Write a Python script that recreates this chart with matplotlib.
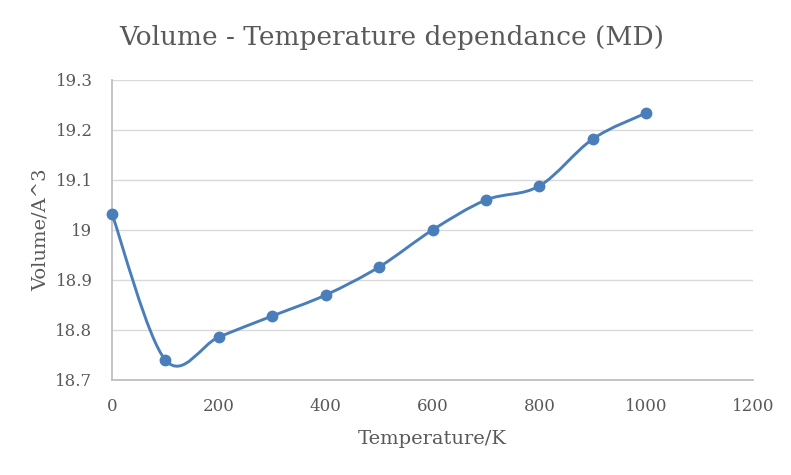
import numpy as np
import matplotlib
matplotlib.use("Agg")
import matplotlib.pyplot as plt
from matplotlib.path import Path
from matplotlib.patches import PathPatch
from matplotlib.ticker import FuncFormatter

temperature = [0, 100, 200, 300, 400, 500, 600, 700, 800, 900, 1000]
volume = [19.032, 18.740, 18.786, 18.828, 18.870, 18.926, 19.000, 19.060, 19.088, 19.182, 19.234]
x_ticks = [0, 200, 400, 600, 800, 1000, 1200]
y_ticks = [18.7, 18.8, 18.9, 19.0, 19.1, 19.2, 19.3]

title = "Volume - Temperature dependance (MD)"
xlabel = "Temperature/K"
ylabel = "Volume/A^3"

blue = "#4A7EBB"
text_col = "#595959"
grid_col = "#D9D9D9"
font = "DejaVu Serif"

fig = plt.figure(figsize=(7.91, 4.75), dpi=100)
ax = fig.add_axes([112/791, 1-380/475, (753-112)/791, (380-80)/475])

# Excel-like smoothed line (Catmull-Rom as cubic Bezier)
pts = np.column_stack([temperature, volume])
n = len(pts)
verts = [tuple(pts[0])]
codes = [Path.MOVETO]
for i in range(n-1):
    p0 = pts[i-1] if i > 0 else pts[i]
    p1 = pts[i]
    p2 = pts[i+1]
    p3 = pts[i+2] if i+2 < n else pts[i+1]
    c1 = p1 + (p2 - p0)/6
    c2 = p2 - (p3 - p1)/6
    verts += [tuple(c1), tuple(c2), tuple(p2)]
    codes += [Path.CURVE4]*3
ax.add_patch(PathPatch(Path(verts, codes), facecolor="none", edgecolor=blue,
                       lw=2.1, capstyle="round", joinstyle="round", zorder=3, clip_on=False))
ax.plot(temperature, volume, linestyle="none", marker="o", ms=7.5, color=blue,
        zorder=4, clip_on=False)

ax.set_xlim(0, 1200)
ax.set_ylim(18.7, 19.3)
ax.set_xticks(x_ticks)
ax.set_yticks(y_ticks)
ax.yaxis.set_major_formatter(FuncFormatter(lambda v, p: "%g" % round(v, 2)))
ax.grid(axis="y", color=grid_col, lw=1.0)
ax.set_axisbelow(True)
for s in ["top", "right"]:
    ax.spines[s].set_visible(False)
for s in ["left", "bottom"]:
    ax.spines[s].set_color("#BFBFBF")
    ax.spines[s].set_linewidth(1.3)
ax.tick_params(length=0, labelsize=12, labelcolor=text_col)
for lab in ax.get_xticklabels() + ax.get_yticklabels():
    lab.set_family(font)
ax.tick_params(axis="x", pad=13)
ax.tick_params(axis="y", pad=14)

ax.set_xlabel(xlabel, fontsize=14, color=text_col, family=font, labelpad=11)
ax.set_ylabel(ylabel, fontsize=14, color=text_col, family=font, labelpad=4)
fig.text(0.5 - 4/791, 1-38/475, title, ha="center", va="center", fontsize=19,
         color=text_col, family=font)

fig.savefig("out.png", dpi=100)
